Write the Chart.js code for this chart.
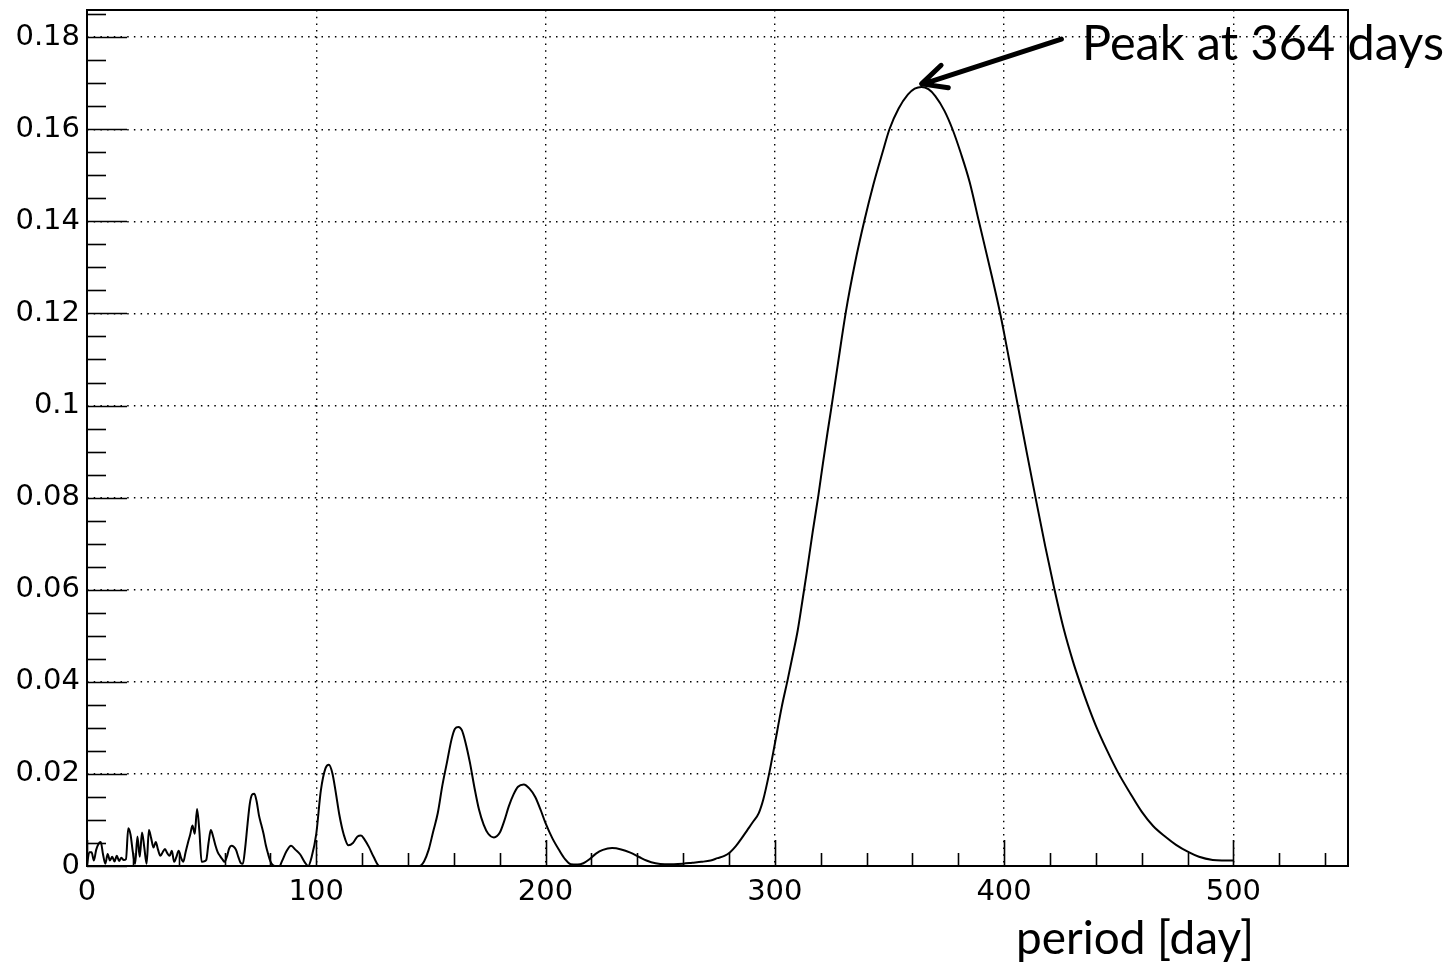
<!DOCTYPE html>
<html>
<head>
<meta charset="utf-8">
<script src="https://cdn.jsdelivr.net/npm/chart.js@4.4.0/dist/chart.umd.min.js"></script>
<style>
  html, body { margin: 0; padding: 0; background: #fff; }
</style>
</head>
<body>
<canvas id="myChart" width="1455" height="967"></canvas>
<script>
// periode (dagen) en het vermogen van het periodogram
let periods = [
  0, 1, 2, 3, 4, 5, 6, 7, 8, 9, 10, 11, 12, 13, 14, 15, 16, 17, 18, 19,
  20, 21, 22, 23, 24, 25, 26, 27, 28, 29, 30, 31, 32, 33, 34, 35, 36, 37, 38, 39,
  40, 41, 42, 43, 44, 45, 46, 47, 48, 49, 50, 51, 52, 53, 54, 55, 56, 57, 58, 59,
  60, 61, 62, 63, 64, 65, 66, 67, 68, 69, 70, 71, 72, 73, 74, 75, 76, 77, 78, 79,
  80, 81, 82, 84, 85, 87, 89, 91, 93, 95, 96.5, 98, 100, 102, 104, 105.5, 107, 108.5, 110, 112,
  114, 116, 118, 119.5, 121, 123, 125, 127.5, 135, 145, 147, 149, 151, 153, 155, 157, 159, 160.5, 162, 163.5,
  165, 167, 169, 171, 173, 175, 177.5, 180, 182, 184, 186, 188, 190.5, 193, 195.5, 198, 200, 203, 206, 208.5,
  211, 214, 216.5, 219, 222, 225, 229, 233, 237, 241, 244, 248, 252, 256, 260, 264, 268, 272, 275, 278,
  280.5, 283, 285.5, 288, 290.5, 293, 295, 297.5, 300, 303, 305.5, 308, 310, 312, 314, 316.5, 319, 321, 323, 324.5,
  327.5, 331, 335, 339, 343, 347, 350, 354, 358, 361, 364, 367, 370, 374, 377.5, 381, 385, 389, 394, 398.5,
  402, 406, 410, 414, 418, 422, 426, 430, 433.3, 436.5, 440, 445, 449.5, 455, 460, 465, 470.5, 475, 480.5, 485,
  491, 495, 500
];
let power = [
  0.0003, 0.0030, 0.0030, 0.0012, 0.0035, 0.0048, 0.0052, 0.0025, 0.0005, 0.0026, 0.0012, 0.0020, 0.0010, 0.0022, 0.0011, 0.0018, 0.0013, 0.0015, 0.0082, 0.0068,
  0.0030, 0.0005, 0.0064, 0.0020, 0.0073, 0.0040, 0.0005, 0.0078, 0.0060, 0.0040, 0.0052, 0.0035, 0.0022, 0.0030, 0.0037, 0.0028, 0.0022, 0.0033, 0.0009, 0.0020,
  0.0033, 0.0018, 0.0009, 0.0030, 0.0050, 0.0068, 0.0088, 0.0070, 0.0124, 0.0077, 0.0009, 0.0010, 0.0013, 0.0050, 0.0078, 0.0064, 0.0045, 0.0030, 0.0022, 0.0015,
  0.0009, 0.0020, 0.0038, 0.0044, 0.0042, 0.0035, 0.0020, 0.0007, 0.0005, 0.0040, 0.0090, 0.0135, 0.0155, 0.0157, 0.0140, 0.0110, 0.0090, 0.0070, 0.0045, 0.0026,
  0.0010, 0.0002, 0, 0, 0.0010, 0.0032, 0.0044, 0.0035, 0.0025, 0.0008, 0, 0.0020, 0.0070, 0.0164, 0.0212, 0.0220, 0.0202, 0.0160, 0.0113, 0.0068,
  0.0045, 0.0050, 0.0064, 0.0066, 0.0058, 0.0041, 0.0020, 0, 0, 0, 0.0010, 0.0035, 0.0075, 0.0115, 0.0175, 0.0225, 0.0275, 0.0298, 0.0302, 0.0295,
  0.0270, 0.0225, 0.0170, 0.0122, 0.0090, 0.0070, 0.0062, 0.0072, 0.0098, 0.0130, 0.0155, 0.0172, 0.0177, 0.0168, 0.0150, 0.0120, 0.0093, 0.0060, 0.0034, 0.0015,
  0.0004, 0.0003, 0.0006, 0.0014, 0.0027, 0.0035, 0.0039, 0.0036, 0.0029, 0.0019, 0.0012, 0.0006, 0.0004, 0.0004, 0.0005, 0.0007, 0.0009, 0.0012, 0.0017, 0.0022,
  0.0030, 0.0043, 0.0060, 0.0078, 0.0096, 0.0115, 0.0145, 0.0200, 0.0265, 0.0345, 0.0402, 0.0462, 0.0512, 0.0575, 0.0640, 0.0725, 0.0805, 0.0875, 0.0942, 0.0990,
  0.1090, 0.1204, 0.1310, 0.1400, 0.1480, 0.1550, 0.1600, 0.1645, 0.1675, 0.1688, 0.1692, 0.1687, 0.1672, 0.1640, 0.1600, 0.1550, 0.1485, 0.1400, 0.1295, 0.1195,
  0.1105, 0.1000, 0.0895, 0.0793, 0.0693, 0.0600, 0.0515, 0.0445, 0.0395, 0.0350, 0.0305, 0.0250, 0.0205, 0.0158, 0.0118, 0.0087, 0.0063, 0.0046, 0.0030, 0.0020,
  0.0013, 0.0012, 0.0012
];

// as-labels
let xTicks = [0, 100, 200, 300, 400, 500];
let yTicks = [0, 0.02, 0.04, 0.06, 0.08, 0.1, 0.12, 0.14, 0.16, 0.18];
let yTickLabels = ['0', '0.02', '0.04', '0.06', '0.08', '0.1', '0.12', '0.14', '0.16', '0.18'];
let xTitle = 'period [day]';

// pijl naar de piek
let peakText = 'Peak at 364 days';
let peakPeriod = 364;
let peakPower = 0.1692;
let arrowTail = [425, 0.1796];
let textPos = [434, 0.1750];

let points = periods.map((p, i) => ({ x: p, y: power[i] }));

// ROOT-achtige stijl: frame, ticks naar binnen, titel en pijl
let rootStyle = {
  id: 'rootStyle',
  afterDraw(chart) {
    let ctx = chart.ctx;
    let a = chart.chartArea;
    let xs = chart.scales.x;
    let ys = chart.scales.y;
    ctx.save();
    ctx.strokeStyle = '#000';
    ctx.lineWidth = 1.6;
    // minor en major ticks op de y-as
    for (let v = 0; v <= ys.max + 1e-9; v += 0.005) {
      let y = Math.round(ys.getPixelForValue(v)) + 0.5;
      let major = Math.abs(v / 0.02 - Math.round(v / 0.02)) < 1e-6;
      ctx.beginPath();
      ctx.moveTo(a.left, y);
      ctx.lineTo(a.left + (major ? 40 : 19), y);
      ctx.stroke();
    }
    // minor en major ticks op de x-as
    for (let v = 0; v <= xs.max + 1e-9; v += 20) {
      let x = Math.round(xs.getPixelForValue(v)) + 0.5;
      let major = v % 100 === 0;
      ctx.beginPath();
      ctx.moveTo(x, a.bottom);
      ctx.lineTo(x, a.bottom - (major ? 26 : 13));
      ctx.stroke();
    }
    // frame
    ctx.lineWidth = 2;
    ctx.strokeRect(a.left, a.top, a.right - a.left, a.bottom - a.top);

    // pijl
    let tx = xs.getPixelForValue(peakPeriod);
    let ty = ys.getPixelForValue(peakPower) - 3;
    let sx = xs.getPixelForValue(arrowTail[0]);
    let sy = ys.getPixelForValue(arrowTail[1]);
    let ang = Math.atan2(sy - ty, sx - tx);
    ctx.lineWidth = 5;
    ctx.lineCap = 'round';
    ctx.lineJoin = 'round';
    ctx.beginPath();
    ctx.moveTo(sx, sy);
    ctx.lineTo(tx + 2, ty);
    ctx.moveTo(tx + 27 * Math.cos(ang - 0.45), ty + 27 * Math.sin(ang - 0.45));
    ctx.lineTo(tx, ty);
    ctx.lineTo(tx + 27 * Math.cos(ang + 0.45), ty + 27 * Math.sin(ang + 0.45));
    ctx.stroke();

    // teksten
    ctx.fillStyle = '#000';
    ctx.textBaseline = 'alphabetic';
    ctx.textAlign = 'left';
    ctx.font = '50px Lato';
    let w = ctx.measureText(peakText).width;
    ctx.font = (50 * 362 / w).toFixed(1) + 'px Lato';
    ctx.fillText(peakText, xs.getPixelForValue(textPos[0]), ys.getPixelForValue(textPos[1]));

    ctx.font = '50px Lato';
    w = ctx.measureText(xTitle).width;
    ctx.font = (50 * 238 / w).toFixed(1) + 'px Lato';
    ctx.textAlign = 'right';
    ctx.fillText(xTitle, xs.getPixelForValue(509), 954);
    ctx.restore();
  }
};

let myChart = document.getElementById('myChart').getContext('2d');

let chart = new Chart(myChart, {
  type: 'line',
  data: {
    datasets: [{
      data: points,
      borderColor: '#000',
      borderWidth: 2,
      pointRadius: 0,
      cubicInterpolationMode: 'monotone',
      fill: false
    }]
  },
  plugins: [rootStyle],
  options: {
    responsive: false,
    animation: false,
    devicePixelRatio: 1,
    layout: { padding: { top: 10, right: 107, bottom: 0, left: 0 } },
    plugins: {
      legend: { display: false },
      tooltip: { enabled: false }
    },
    scales: {
      x: {
        type: 'linear',
        min: 0,
        max: 550,
        afterBuildTicks: (s) => { s.ticks = xTicks.map(v => ({ value: v })); },
        afterFit: (s) => { s.height = 101; s.paddingLeft = 0; s.paddingRight = 0; },
        ticks: {
          color: '#000',
          padding: 9,
          maxRotation: 0,
          autoSkip: false,
          font: { family: 'DejaVu Sans', size: 29 },
          callback: (v) => String(v)
        },
        grid: { color: '#000', lineWidth: 1.4, drawTicks: false },
        border: { display: false, dash: [1.5, 5.2] }
      },
      y: {
        min: 0,
        max: 0.1859,
        afterBuildTicks: (s) => { s.ticks = yTicks.map(v => ({ value: v })); },
        afterFit: (s) => { s.width = 87; s.paddingTop = 0; s.paddingBottom = 0; },
        ticks: {
          color: '#000',
          padding: 7,
          autoSkip: false,
          font: { family: 'DejaVu Sans', size: 29 },
          callback: (v, i) => yTickLabels[i]
        },
        grid: { color: '#000', lineWidth: 1.4, drawTicks: false },
        border: { display: false, dash: [1.5, 5.2] }
      }
    }
  }
});
</script>
</body>
</html>
